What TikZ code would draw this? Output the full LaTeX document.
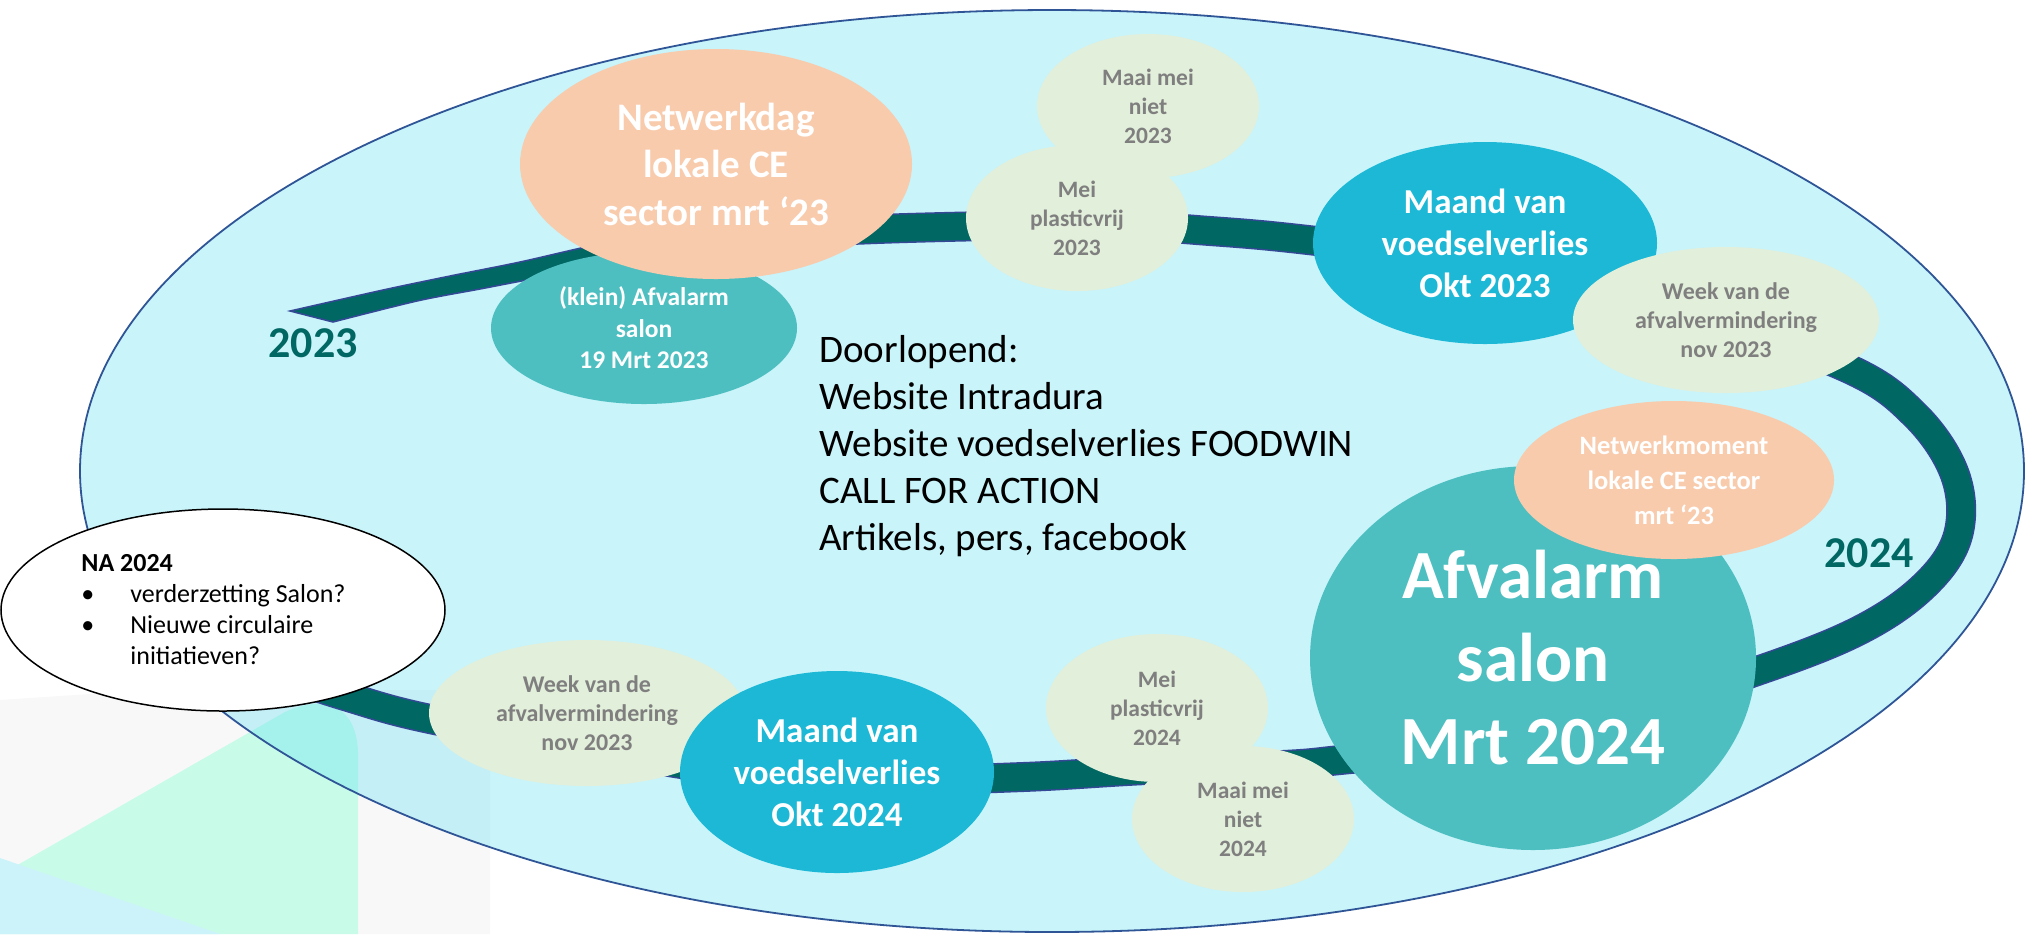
\documentclass[tikz,border=0pt]{standalone}
\usepackage{fontspec}
\setmainfont{Carlito}
\usetikzlibrary{shapes.geometric}
\definecolor{ellfill}{RGB}{100,224,241}
\definecolor{ellline}{RGB}{47,85,151}
\definecolor{trackteal}{RGB}{0,103,99}
\definecolor{trackblue}{RGB}{52,72,150}
\definecolor{tealc}{RGB}{78,191,193}
\definecolor{bluec}{RGB}{28,184,214}
\definecolor{peach}{RGB}{248,203,173}
\definecolor{lgreen}{RGB}{226,239,218}
\definecolor{gtext}{RGB}{127,127,127}
\definecolor{decogrey}{RGB}{248,248,249}
\definecolor{decomint}{RGB}{201,251,233}
\definecolor{decocyan}{RGB}{204,243,250}
\tikzset{
  blob/.style 2 args={ellipse, inner sep=0pt, outer sep=0pt, minimum width=#1, minimum height=#2, align=center},
  tealblob/.style={fill=tealc, text=white, font=\bfseries},
  blueblob/.style={fill=bluec, text=white, font=\fontsize{17.5}{21}\selectfont\bfseries},
  peachblob/.style={fill=peach, text=white},
  greenblob/.style={fill=lgreen, text=gtext, font=\fontsize{11.75}{14.5}\selectfont\bfseries},
  weekblob/.style={fill=lgreen, text=gtext, font=\fontsize{12}{14.5}\selectfont\bfseries},
  yearlbl/.style={text=trackteal, font=\fontsize{22}{26}\selectfont\bfseries, inner sep=0pt},
  track/.style={line width=0.75pt, draw=trackblue, double=trackteal, double distance=13.5pt},
}
\begin{document}
\begin{tikzpicture}[x=0.5pt,y=-0.5pt]
\useasboundingbox (0,0) rectangle (2032,934);
\fill[white] (0,0) rectangle (2032,934);
% background decoration
\fill[decogrey] (0,700) -- (150,690) -- (490,690) -- (490,934) -- (0,934) -- cycle;
\fill[decomint] (0,875) -- (285,712) .. controls (335,690) and (358,715) .. (358,755) -- (358,934) -- (0,934) -- cycle;
\fill[decocyan] (0,858) -- (220,934) -- (0,934) -- cycle;
% big ellipse
\node[ellipse, minimum width=972pt, minimum height=461pt, inner sep=0pt, fill=ellfill, fill opacity=0.35] (ring) at (1052,471) {};
\node[ellipse, minimum width=972pt, minimum height=461pt, inner sep=0pt, draw=ellline, line width=0.9pt] (ringline) at (1052,471) {};
% track start (tapered)
\filldraw[fill=trackteal, draw=trackblue, line width=0.75pt]
  plot[smooth] coordinates {(290,311) (383,290) (450,276) (520,262) (590,246) (660,232)}
  -- plot[smooth] coordinates {(660,260) (550,276) (480,289) (417,301) (333,322)} -- cycle;
% track
\draw[track] plot[smooth, tension=0.6] coordinates {
  (648,245) (760,235) (907,228) (1100,225) (1210,231) (1308,240) (1480,262) (1680,310)
  (1845,367) (1915,415) (1955,475) (1958,535) (1925,585) (1860,630)
  (1757,671) (1600,720) (1450,748)
  (1340,760) (1283,765) (1146,770) (1023,777) (880,780) (740,772) (600,750) (430,719)
  (345,696) (260,668)};
% year labels
\node[yearlbl] (y2023) at (313,343) {2023};
\node[yearlbl] (y2024) at (1869,553) {2024};
% event ellipses
\node[blob={153pt}{76pt}, tealblob, font=\fontsize{12.75}{15.75}\selectfont\bfseries] (klein) at (644,328) {(klein) Afvalarm\\salon\\19 Mrt 2023};
\node[blob={196pt}{115pt}, peachblob, font=\fontsize{19.5}{23.75}\selectfont\bfseries] (netdag) at (716,164) {Netwerkdag\\lokale CE\\sector mrt ‘23};
\node[blob={111pt}{72pt}, greenblob] (maai23) at (1148,106) {Maai mei\\niet\\2023};
\node[blob={111pt}{73pt}, greenblob] (mei23) at (1077,218) {Mei\\plasticvrij\\2023};
\node[blob={172pt}{101pt}, blueblob] (maand23) at (1485,243) {Maand van\\voedselverlies\\Okt 2023};
\node[blob={153pt}{73pt}, weekblob] (week23) at (1726,320) {Week van de\\afvalvermindering\\nov 2023};
\node[blob={223pt}{192pt}, tealblob, font=\fontsize{34.5}{41.5}\selectfont\bfseries] (salon24) at (1533,658) {Afvalarm\\salon\\Mrt 2024};
\node[blob={160pt}{79pt}, peachblob, font=\fontsize{13.25}{17.5}\selectfont\bfseries] (netmom) at (1674,480) {Netwerkmoment\\lokale CE sector\\mrt ‘23};
\node[blob={111pt}{74pt}, greenblob] (mei24) at (1157,708) {Mei\\plasticvrij\\2024};
\node[blob={111pt}{73pt}, greenblob] (maai24) at (1243,819) {Maai mei\\niet\\2024};
\node[blob={158pt}{73pt}, weekblob] (weekb) at (587,713) {Week van de\\afvalvermindering\\nov 2023};
\node[blob={157pt}{101pt}, blueblob] (maand24) at (837,772) {Maand van\\voedselverlies\\Okt 2024};
% NA 2024
\node[blob={222pt}{101pt}, fill=white, draw=black, line width=0.75pt] (na) at (223,610) {};
\node[anchor=west, align=left, inner sep=0pt, font=\fontsize{13}{15.5}\selectfont] (natext) at (81,610)
  {\textbf{NA 2024}\\\makebox[24.5pt][l]{•}verderzetting Salon?\\\makebox[24.5pt][l]{•}Nieuwe circulaire\\\hspace*{24.5pt}initiatieven?};
% continuous activities
\node[anchor=west, align=left, inner sep=0pt, font=\fontsize{19.5}{23.5}\selectfont] (doorl) at (819,446)
  {Doorlopend:\\Website Intradura\\Website voedselverlies FOODWIN\\CALL FOR ACTION\\Artikels, pers, facebook};
\end{tikzpicture}
\end{document}
